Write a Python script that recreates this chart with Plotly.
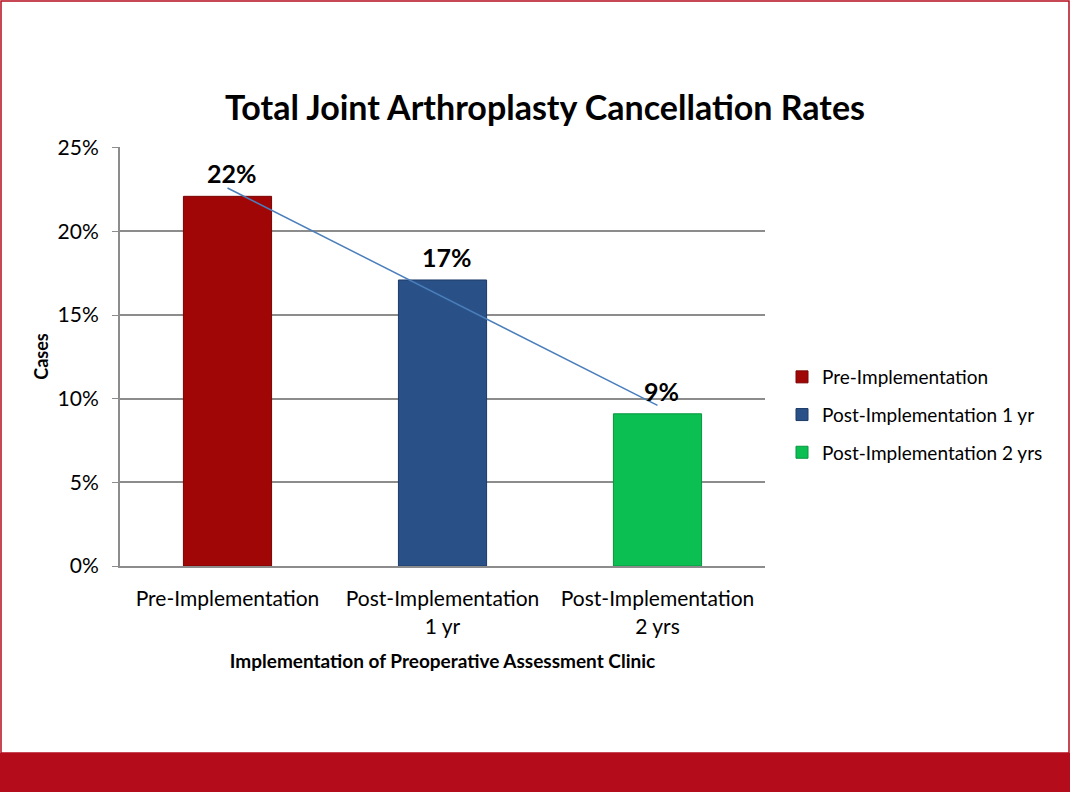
import numpy as np
import plotly.graph_objects as go

categories = ["Pre-Implementation", "Post-Implementation<br>1 yr", "Post-Implementation<br>2 yrs"]
legend_names = ["Pre-Implementation", "Post-Implementation 1 yr", "Post-Implementation 2 yrs"]
values = [22.1, 17.1, 9.1]
value_labels = ["22%", "17%", "9%"]
colors = ["#A10606", "#2A5187", "#0BBF52"]
edge_colors = ["#7A0404", "#1C3A66", "#08953F"]
y_ticks = [0, 5, 10, 15, 20, 25]
y_tick_text = [f"{v}%" for v in y_ticks]

W, H = 1070, 792
ML, MR, MT, MB = 120, 305, 147, 226
PW, PH = W - ML - MR, H - MT - MB

def px_x(x):
    return (x - ML) / PW

def px_y(y):
    return (H - MB - y) / PH

FONT = "Lato"

fig = go.Figure()
for i in range(3):
    fig.add_trace(go.Bar(
        x=[categories[i]], y=[values[i]], name=legend_names[i],
        marker=dict(color=colors[i], line=dict(color=edge_colors[i], width=1)),
        width=0.41, legendgroup=str(i), cliponaxis=False,
    ))

# linear trend line from data
xi = np.arange(len(values))
slope, intercept = np.polyfit(xi, values, 1)
fig.add_trace(go.Scatter(
    x=categories, y=list(intercept + slope * xi), mode="lines",
    line=dict(color="#4A7EBB", width=1.5), showlegend=False, hoverinfo="skip",
))

annotations = [
    dict(x=categories[i], y=values[i], xref="x", yref="y",
         text=f"<b>{value_labels[i]}</b>", showarrow=False,
         yanchor="bottom", yshift=6, xshift=4,
         font=dict(family=FONT, size=25, color="black"))
    for i in range(3)
]

fig.update_layout(
    width=W, height=H,
    margin=dict(l=ML, r=MR, t=MT, b=MB),
    paper_bgcolor="white", plot_bgcolor="white",
    barmode="overlay",
    annotations=annotations,
    title=dict(text="<b>Total Joint Arthroplasty Cancellation Rates</b>",
               font=dict(family=FONT, size=34, color="black"),
               x=px_x(545), xref="paper", y=1 - 108 / H, yanchor="middle", xanchor="center"),
    font=dict(family=FONT, color="black"),
    showlegend=True,
    legend=dict(x=px_x(782), y=px_y(358), xanchor="left", yanchor="top",
                font=dict(family=FONT, size=19, color="black"),
                tracegroupgap=10, itemwidth=30, bgcolor="rgba(0,0,0,0)"),
    xaxis=dict(showline=True, linecolor="#8C8C8C", linewidth=2,
               tickfont=dict(family=FONT, size=21, color="black"),
               ticks="", showgrid=False, ticklabelstandoff=13,
               title=dict(text="<b>Implementation of Preoperative Assessment Clinic</b>",
                          font=dict(family=FONT, size=19, color="black"), standoff=18)),
    yaxis=dict(range=[0, 25.05], tickmode="array", tickvals=y_ticks, ticktext=y_tick_text,
               showline=True, linecolor="#8C8C8C", linewidth=2,
               ticks="outside", ticklen=6, tickcolor="#8C8C8C",
               showgrid=True, gridcolor="#8C8C8C", gridwidth=1.5,
               tickfont=dict(family=FONT, size=21, color="black"),
               zeroline=False, ticklabelstandoff=9,
               title=dict(text="<b>Cases</b>", font=dict(family=FONT, size=18, color="black"),
                          standoff=4)),
    shapes=[
        dict(type="rect", xref="paper", yref="paper",
             x0=px_x(0), x1=px_x(W), y0=px_y(753), y1=px_y(H),
             fillcolor="#B50C1C", line=dict(width=0), layer="below"),
        dict(type="rect", xref="paper", yref="paper",
             x0=px_x(1), x1=px_x(W - 1), y0=px_y(753), y1=px_y(1),
             fillcolor="rgba(0,0,0,0)", line=dict(color="#B50C1C", width=1.5), layer="below"),
    ],
)

fig.write_html("out.html", config={"displayModeBar": False},
               post_script="document.body.style.margin='0px';")
